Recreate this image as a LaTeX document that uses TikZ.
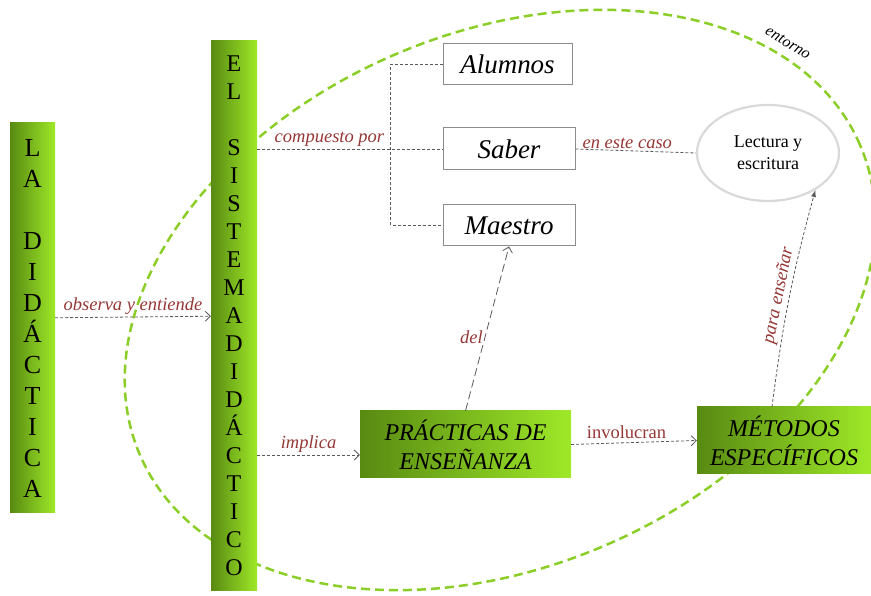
\documentclass[tikz,border=0pt]{standalone}
\usepackage{fontspec}
\setmainfont{Liberation Serif}
\usetikzlibrary{arrows.meta,shapes.geometric,calc}

\definecolor{verdeosc}{RGB}{88,138,18}
\definecolor{verdecla}{RGB}{158,232,40}
\definecolor{rojizo}{RGB}{149,55,53}
\definecolor{gristr}{RGB}{89,89,89}
\definecolor{verdeent}{RGB}{140,206,40}

\tikzset{
  barra/.style={left color=verdeosc, right color=verdecla, inner sep=0pt, align=center},
  caja/.style={draw=gray!90, line width=1pt, fill=white, font=\fontsize{27}{30}\selectfont\itshape},
  conn/.style={draw=gristr, dash pattern=on 3pt off 2pt, line width=.8pt},
  flecha/.style={-{Straight Barb[length=5pt,width=10pt]}},
  etiq/.style={text=rojizo, font=\fontsize{18.5}{22}\selectfont\itshape, inner sep=2pt},
}

\begin{document}
\begin{tikzpicture}[x=1pt,y=1pt]
\useasboundingbox (0,0) rectangle (871,596);
\clip (0,0) rectangle (871,596);

% entorno
\draw[verdeent, line width=2.5pt, dash pattern=on 9pt off 5pt, rotate around={23.3:(500,296)}] (500,296) ellipse [x radius=392pt, y radius=267pt];
\node[rotate=-31, font=\fontsize{16}{18}\selectfont\itshape] (entorno) at (788,553) {entorno};

% barras
\node[barra, minimum width=45, minimum height=390, font=\fontsize{26}{31}\selectfont] (ladid) at (32.5,278) {L\\A\\~\\D\\I\\D\\Á\\C\\T\\I\\C\\A};
\node[barra, minimum width=46, minimum height=550, font=\fontsize{24}{28}\selectfont] (elsis) at (234,280) {E\\L\\~\\S\\I\\S\\T\\E\\M\\A\\D\\I\\D\\Á\\C\\T\\I\\C\\O};

% cajas
\node[caja, minimum width=129, minimum height=41] (alumnos) at (507.5,531.5) {Alumnos};
\node[caja, minimum width=132, minimum height=42] (saber) at (509,447) {Saber};
\node[caja, minimum width=132, minimum height=41] (maestro) at (509,370.5) {Maestro};
\node[draw=gray!30, line width=2.2pt, ellipse, minimum width=142, minimum height=96, inner sep=0pt, align=center, font=\fontsize{18}{22}\selectfont] (lectura) at (768,443) {Lectura y\\escritura};
\node[barra, minimum width=211, minimum height=67, font=\fontsize{24}{29}\selectfont\itshape] (practicas) at (465.5,151.5) {PRÁCTICAS DE\\ENSEÑANZA};
\node[barra, minimum width=174, minimum height=67, font=\fontsize{24}{29}\selectfont\itshape] (metodos) at (784,155.5) {MÉTODOS\\ESPECÍFICOS};

% conectores
\coordinate (tronco) at ($(saber.west)+(-52,0)$);
\draw[conn, flecha] (ladid) -- (elsis) node[etiq, midway, above] {observa y entiende};
\draw[conn] (elsis.east |- saber.west) -- (saber.west) node[etiq, pos=.39, above] {compuesto por};
\draw[conn] (alumnos.west) -| (tronco) |- (maestro.west);
\draw[conn] (saber.east) -- (lectura.west) node[etiq, pos=.43, above] {en este caso};
\draw[conn, flecha] ([yshift=-10.5pt]practicas.west -| elsis.east) -- ([yshift=-10.5pt]practicas.west) node[etiq, midway, above] {implica};
\draw[conn, flecha] (practicas.east) -- (metodos.west) node[pos=.44, above, text=rojizo, font=\fontsize{18.5}{22}\selectfont] {involucran};
\draw[conn, dash pattern=on 8pt off 4pt, flecha] (practicas.north) -- (maestro.south) node[etiq, pos=.45, left] {del};
\draw[conn, -{Latex[length=7pt,width=5pt]}] ([xshift=-12pt]metodos.north) to[bend left=4] node[etiq, midway, sloped, above] {para enseñar} (lectura.-38);
\end{tikzpicture}
\end{document}
